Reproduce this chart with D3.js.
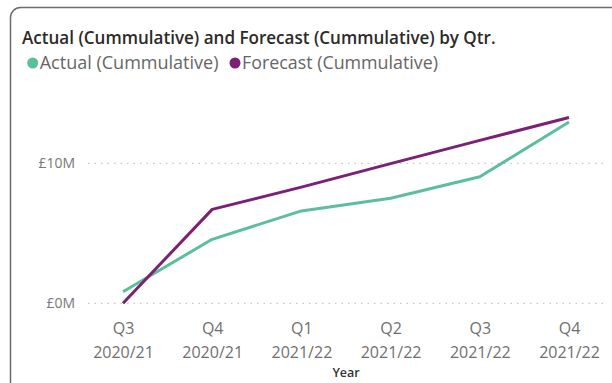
<!DOCTYPE html>
<html>
<head>
<meta charset="utf-8">
<script src="https://cdn.jsdelivr.net/npm/d3@7"></script>
<style>
    body { margin: 0; background: #fff; }
    svg { display: block; font-family: "Open Sans", "Noto Sans", sans-serif; }
</style>
</head>
<body>
<div id="chart"></div>
<script>
(function()
{
    // quarters along the x axis (two line labels)
    var quarters = ['Q3', 'Q4', 'Q1', 'Q2', 'Q3', 'Q4'],
        years = ['2020/21', '2020/21', '2021/22', '2021/22', '2021/22', '2021/22'],
        // values in £M
        actual = [0.83, 4.57, 6.6, 7.5, 9.04, 12.95],
        forecast = [0, 6.71, 8.3, 9.98, 11.64, 13.27],
        yTicks = [0, 10];

    var width = 612, height = 383;

    var svg = d3.select('#chart').append('svg')
        .attr('width', width)
        .attr('height', height);

    // shrink/grow a text until it spans the wanted width
    var fit = function(sel, w, size)
    {
        sel.attr('font-size', size);
        var len = sel.node().getComputedTextLength();
        sel.attr('font-size', size * w / len);
    };

    // card
    svg.append('rect')
        .attr('x', 10.5).attr('y', 7.5)
        .attr('width', 640).attr('height', 400)
        .attr('rx', 10)
        .attr('fill', '#fff')
        .attr('stroke', '#6b6b73')
        .attr('stroke-width', 1.5);

    var title = svg.append('text')
        .attr('x', 22).attr('y', 44)
        .attr('font-weight', 600)
        .attr('fill', '#2b2a29')
        .text('Actual (Cummulative) and Forecast (Cummulative) by Qtr.');
    fit(title, 474, 17);

    var idx = d3.range(quarters.length);

    var x = d3.scalePoint().domain(idx).range([123, 569]),
        y = d3.scaleLinear().domain([0, 14]).range([303.3, 107.3]);

    // grid
    svg.append('g').selectAll('line').data(yTicks).enter().append('line')
        .attr('x1', 88).attr('x2', 606)
        .attr('y1', function(d) { return y(d); })
        .attr('y2', function(d) { return y(d); })
        .attr('stroke', '#c8c8c8')
        .attr('stroke-width', 1.2)
        .attr('stroke-dasharray', '1.5,5');

    var yAxis = d3.axisLeft(y).tickValues(yTicks).tickSize(0).tickPadding(0)
        .tickFormat(function(d) { return '£' + d + 'M'; });

    svg.append('g').attr('transform', 'translate(75,0)').call(yAxis)
        .call(function(g) { g.select('.domain').remove(); })
        .selectAll('text')
        .attr('font-size', 14)
        .attr('fill', '#777')
        .attr('font-family', '"Open Sans", sans-serif');

    var xAxis = d3.axisBottom(x).tickSize(0).tickFormat(function() { return ''; });

    var gx = svg.append('g').attr('transform', 'translate(0,315)').call(xAxis);
    gx.select('.domain').remove();
    gx.selectAll('.tick').each(function(d)
    {
        var t = d3.select(this).append('text')
            .attr('text-anchor', 'middle')
            .attr('fill', '#6f6f6f')
            .attr('font-size', 16)
            .attr('font-family', '"Open Sans", sans-serif');
        t.append('tspan').attr('x', 0).attr('y', 19).text(quarters[d]);
        t.append('tspan').attr('x', 0).attr('y', 43).text(years[d]);
    });

    svg.append('text')
        .attr('x', 346).attr('y', 377)
        .attr('text-anchor', 'middle')
        .attr('font-size', 12.5)
        .attr('font-weight', 600)
        .attr('fill', '#333')
        .text('Year');

    var line = d3.line()
        .x(function(d, i) { return x(i); })
        .y(function(d) { return y(d); });

    var series = [
        { name : 'Actual (Cummulative)', values : actual, color : '#5cbf9b' },
        { name : 'Forecast (Cummulative)', values : forecast, color : '#7c1f76' }
    ];

    svg.append('g').selectAll('path').data(series).enter().append('path')
        .attr('d', function(d) { return line(d.values); })
        .attr('fill', 'none')
        .attr('stroke', function(d) { return d.color; })
        .attr('stroke-width', 3)
        .attr('stroke-linejoin', 'round');

    // legend
    var lx = [32.7, 235],
        lw = [179, 196];
    var lg = svg.append('g').selectAll('g').data(series).enter().append('g')
        .attr('transform', function(d, i) { return 'translate(' + lx[i] + ',63)'; });
    lg.append('circle').attr('r', 5.5).attr('fill', function(d) { return d.color; });
    lg.append('text')
        .attr('x', 7).attr('y', 5.5)
        .attr('fill', '#666')
        .attr('font-family', '"Open Sans", sans-serif')
        .text(function(d) { return d.name; })
        .each(function(d, i) { fit(d3.select(this), lw[i], 15); });
})();
</script>
</body>
</html>
